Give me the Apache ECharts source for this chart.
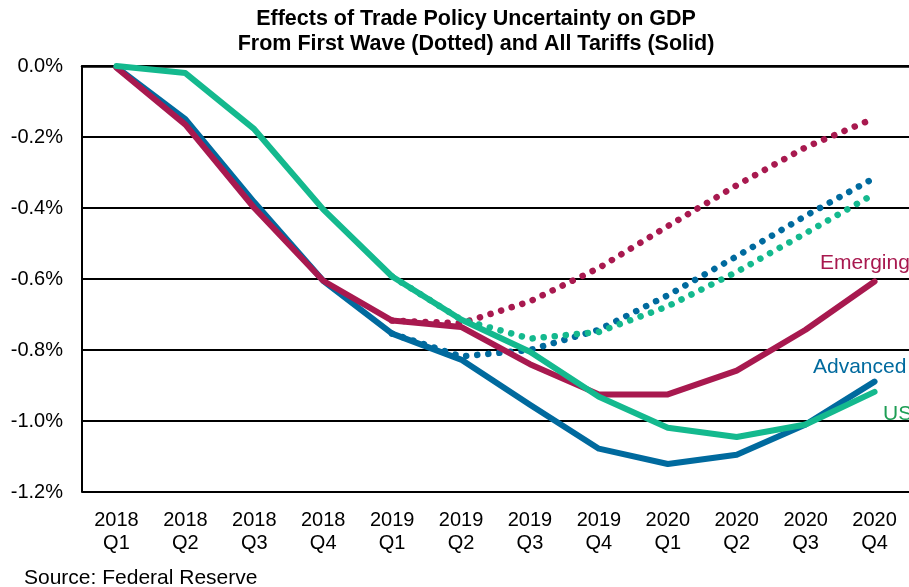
<!DOCTYPE html>
<html>
<head>
<meta charset="utf-8">
<script src="https://cdn.jsdelivr.net/npm/echarts@6/dist/echarts.min.js"></script>
<style>html,body{margin:0;padding:0;background:#fff;}#c{width:909px;height:587px;}</style>
</head>
<body>
<div id="c"></div>
<script>
var categories = ['2018\nQ1','2018\nQ2','2018\nQ3','2018\nQ4','2019\nQ1','2019\nQ2','2019\nQ3','2019\nQ4','2020\nQ1','2020\nQ2','2020\nQ3','2020\nQ4'];
var emergingSolid = [-0.005,-0.165,-0.40,-0.605,-0.717,-0.735,-0.84,-0.925,-0.925,-0.858,-0.743,-0.607];
var advancedSolid = [-0.003,-0.15,-0.384,-0.605,-0.754,-0.827,-0.954,-1.078,-1.121,-1.095,-1.01,-0.889];
var usSolid = [0,-0.02,-0.178,-0.404,-0.593,-0.714,-0.805,-0.932,-1.019,-1.045,-1.01,-0.918];
var emergingDotted = [null,null,null,null,-0.717,-0.725,-0.663,-0.569,-0.451,-0.336,-0.229,-0.147];
var advancedDotted = [null,null,null,null,-0.754,-0.818,-0.80,-0.743,-0.646,-0.536,-0.422,-0.315];
var usDotted = [null,null,null,null,-0.593,-0.714,-0.768,-0.749,-0.677,-0.58,-0.471,-0.36];
var yTicks = [0,-0.2,-0.4,-0.6,-0.8,-1.0,-1.2];

var C_EM = '#A8194F', C_ADV = '#006A9E', C_US = '#14B98E', C_USLBL = '#1E9E55';
var FONT = '"Liberation Sans", Arial, sans-serif';

function dotted(name, data, color) {
  return { name: name, type: 'line', data: data, symbol: 'none', silent: true, z: 2,
    lineStyle: { color: color, width: 6.5, type: [0.1, 11], cap: 'round' } };
}
function solid(name, data, color, z) {
  return { name: name, type: 'line', data: data, symbol: 'none', silent: true, z: z,
    lineStyle: { color: color, width: 6, cap: 'round', join: 'round' } };
}

var chart = echarts.init(document.getElementById('c'), null, { renderer: 'canvas' });
chart.setOption({
  animation: false,
  backgroundColor: '#fff',
  textStyle: { fontFamily: FONT },
  title: [
    { text: 'Effects of Trade Policy Uncertainty on GDP\nFrom First Wave (Dotted) and All Tariffs (Solid)',
      left: 471, top: 2, textAlign: 'center',
      textStyle: { fontFamily: FONT, fontSize: 21.5, fontWeight: 'bold', color: '#000', lineHeight: 25 } },
    { text: 'Source: Federal Reserve', left: 19, top: 563,
      textStyle: { fontFamily: FONT, fontSize: 21, fontWeight: 'normal', color: '#000' } }
  ],
  grid: { left: 82, right: -6, top: 66, bottom: 95, containLabel: false },
  xAxis: {
    type: 'category', data: categories, boundaryGap: true,
    axisLine: { show: true, lineStyle: { color: '#000', width: 2.5 } },
    axisTick: { show: false },
    axisLabel: { color: '#000', fontSize: 20, fontFamily: FONT, lineHeight: 23, margin: 17, interval: 0 }
  },
  yAxis: {
    type: 'value', min: -1.2, max: 0, interval: 0.2,
    axisLine: { show: true, lineStyle: { color: '#000', width: 2 } },
    axisTick: { show: false },
    splitLine: { show: true, lineStyle: { color: '#000', width: 1.8 } },
    axisLabel: { color: '#000', fontSize: 20, fontFamily: FONT, margin: 19,
      formatter: function (v) { var r = Math.round(v * 10) / 10; return (r === 0 ? '0.0' : r.toFixed(1)) + '%'; } }
  },
  graphic: [
    { type: 'text', left: 820, top: 253, style: { text: 'Emerging', fill: C_EM, font: '21px ' + FONT } },
    { type: 'text', left: 813, top: 357, style: { text: 'Advanced', fill: C_ADV, font: '21px ' + FONT } },
    { type: 'text', left: 883, top: 404, style: { text: 'US', fill: C_USLBL, font: '21px ' + FONT } }
  ],
  series: [
    dotted('Emerging (first wave)', emergingDotted, C_EM),
    dotted('Advanced (first wave)', advancedDotted, C_ADV),
    dotted('US (first wave)', usDotted, C_US),
    solid('Advanced', advancedSolid, C_ADV, 3),
    solid('Emerging', emergingSolid, C_EM, 4),
    solid('US', usSolid, C_US, 5)
  ]
});
</script>
</body>
</html>
